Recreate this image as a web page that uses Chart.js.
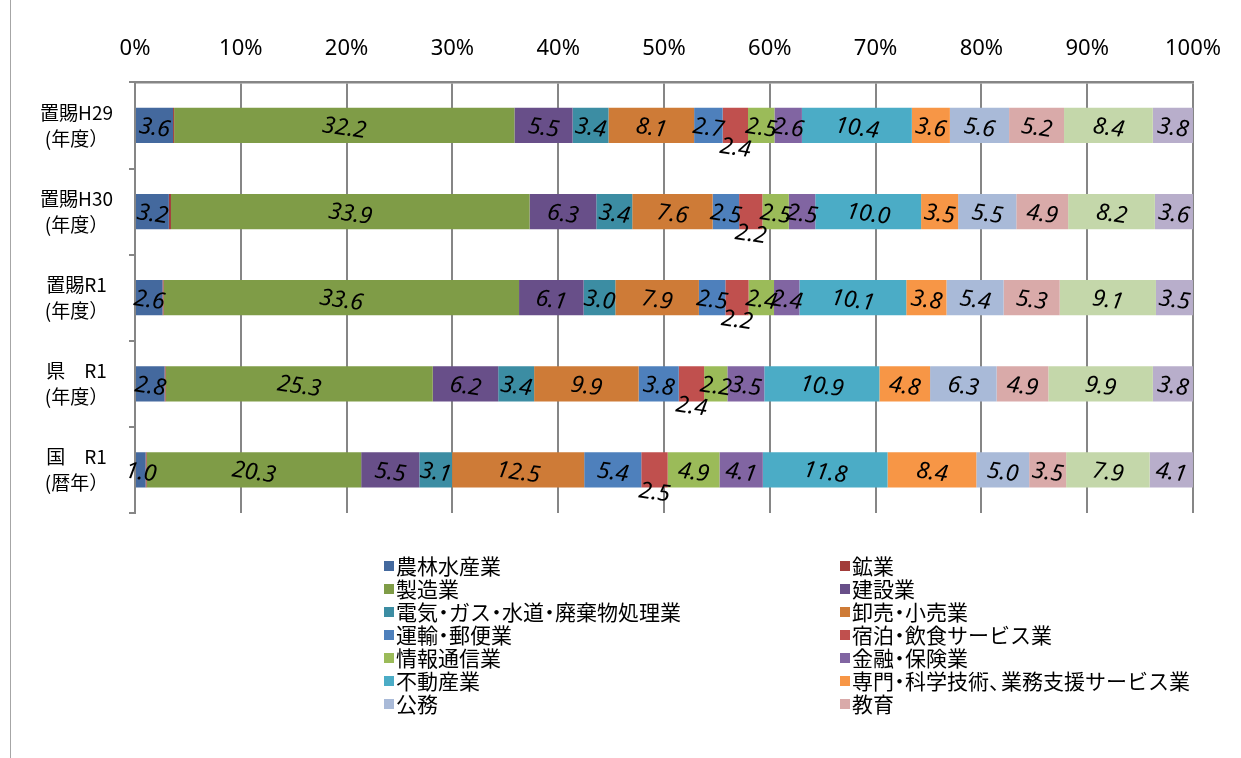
<!DOCTYPE html>
<html lang="ja">
<head>
<meta charset="utf-8">
<title>産業別構成比</title>
<script src="https://cdn.jsdelivr.net/npm/chart.js@4.4.1/dist/chart.umd.min.js"></script>
<style>
  body { margin: 0; background: #fff; }
  #wrap { position: relative; width: 1241px; height: 758px; overflow: hidden; }
  #frame { position: absolute; left: 10px; top: 0; width: 0; height: 758px; border-left: 1.5px solid #a6a6a6; }
  #chart { position: absolute; left: 0; top: 0; }
  #legend {
    position: absolute; left: 384px; top: 554px;
    display: grid; grid-template-columns: 456px auto;
    font-family: "Noto Sans CJK JP", sans-serif; font-size: 21px; line-height: 23px; color: #000;
  }
  #legend .item { display: flex; align-items: center; white-space: nowrap; }
  #legend .box { width: 10px; height: 10px; margin-right: 2px; flex: none; }
  #legend .dot { margin: 0 -5px; }
  #legend .comma { margin-right: -9px; }
</style>
</head>
<body>
<div id="wrap">
  <div id="frame"></div>
  <canvas id="chart" width="1241" height="758"></canvas>
  <div id="legend"></div>
</div>
<script>
// 区分（縦軸）
const categories = [
  ["置賜H29", "(年度）"],
  ["置賜H30", "(年度）"],
  ["置賜R1", "(年度）"],
  ["県　R1", "(年度）"],
  ["国　R1", "(暦年）"]
];

// 産業（系列）。最後の2つは凡例に出ていない
const industries = [
  "農林水産業", "鉱業", "製造業", "建設業",
  "電気・ガス・水道・廃棄物処理業", "卸売・小売業",
  "運輸・郵便業", "宿泊・飲食サービス業",
  "情報通信業", "金融・保険業",
  "不動産業", "専門・科学技術、業務支援サービス業",
  "公務", "教育",
  "保健衛生・社会事業", "その他のサービス"
];
const legendCount = 14;

const industryColors = [
  "#44699e", "#a23c3a", "#7f9c47", "#684f89",
  "#3c8da3", "#ce7b37", "#4e80bc", "#c0504e",
  "#9bbb59", "#8165a2", "#4bacc6", "#f79646",
  "#a9bad8", "#d9aaa9", "#c4d7aa", "#b8aecb"
];

// 構成比（%）行ごと、industries の順
const okitamaH29 = [3.6, 0.1, 32.2, 5.5, 3.4, 8.1, 2.7, 2.4, 2.5, 2.6, 10.4, 3.6, 5.6, 5.2, 8.4, 3.8];
const okitamaH30 = [3.2, 0.2, 33.9, 6.3, 3.4, 7.6, 2.5, 2.2, 2.5, 2.5, 10.0, 3.5, 5.5, 4.9, 8.2, 3.6];
const okitamaR1  = [2.6, 0.1, 33.6, 6.1, 3.0, 7.9, 2.5, 2.2, 2.4, 2.4, 10.1, 3.8, 5.4, 5.3, 9.1, 3.5];
const kenR1      = [2.8, 0.1, 25.3, 6.2, 3.4, 9.9, 3.8, 2.4, 2.2, 3.5, 10.9, 4.8, 6.3, 4.9, 9.9, 3.8];
const kuniR1     = [1.0, 0.1, 20.3, 5.5, 3.1, 12.5, 5.4, 2.5, 4.9, 4.1, 11.8, 8.4, 5.0, 3.5, 7.9, 4.1];

const rows = [okitamaH29, okitamaH30, okitamaR1, kenR1, kuniR1];

const xTicks = [0, 10, 20, 30, 40, 50, 60, 70, 80, 90, 100];

// 100%積み上げにするため各行を合計で割る
const rowTotals = rows.map((r) => r.reduce((a, b) => a + b, 0));

const datasets = industries.map((name, i) => ({
  label: name,
  data: rows.map((r, j) => (r[i] / rowTotals[j]) * 100),
  raw: rows.map((r) => r[i]),
  backgroundColor: industryColors[i],
  borderWidth: 0
}));

const labelFont = 'italic 23px "Noto Sans", sans-serif';

// 棒の中の数値ラベル（少し傾いた斜体）
const valueLabels = {
  id: "valueLabels",
  afterDatasetsDraw(chart) {
    const ctx = chart.ctx;
    ctx.save();
    ctx.font = labelFont;
    ctx.fillStyle = "#000";
    ctx.textAlign = "center";
    ctx.textBaseline = "middle";
    chart.data.datasets.forEach((ds, i) => {
      if (i === 1) return; // 鉱業は表示なし
      const meta = chart.getDatasetMeta(i);
      meta.data.forEach((bar, j) => {
        const cx = (bar.x + bar.base) / 2;
        let cy = bar.y + 3;
        if (i === 7) cy += 20; // 宿泊・飲食は棒の下
        ctx.save();
        ctx.translate(cx, cy);
        ctx.rotate((8 * Math.PI) / 180);
        ctx.fillText(ds.raw[j].toFixed(1), 0, 0);
        ctx.restore();
      });
    });
    ctx.restore();
  }
};

const chart = new Chart(document.getElementById("chart"), {
  type: "bar",
  data: { labels: categories, datasets: datasets },
  options: {
    indexAxis: "y",
    responsive: false,
    animation: false,
    layout: { padding: { top: 16, right: 47, bottom: 245, left: 0 } },
    plugins: {
      legend: { display: false },
      tooltip: { enabled: false }
    },
    datasets: {
      bar: { categoryPercentage: 1, barPercentage: 0.41 }
    },
    scales: {
      x: {
        position: "top",
        stacked: true,
        min: 0,
        max: 100,
        afterBuildTicks: (scale) => {
          scale.ticks = xTicks.map((v) => ({ value: v }));
        },
        ticks: {
          callback: (v) => v + "%",
          color: "#000",
          padding: 20,
          font: { family: "'Noto Sans', sans-serif", size: 22 }
        },
        grid: { color: "#868686", lineWidth: 2, drawTicks: false },
        border: { color: "#868686", width: 2.5 }
      },
      y: {
        stacked: true,
        afterFit: (scale) => {
          scale.width = 135;
        },
        ticks: {
          color: "#000",
          crossAlign: "center",
          padding: 16,
          font: { family: "'Noto Sans CJK JP', sans-serif", size: 19, lineHeight: 1.35 }
        },
        grid: {
          offset: true,
          drawOnChartArea: false,
          drawTicks: true,
          tickLength: 6,
          color: "#868686",
          lineWidth: 2
        },
        border: { color: "#868686", width: 2 }
      }
    }
  },
  plugins: [valueLabels]
});

// 2列の凡例（Excelの並び）。「・」「、」は詰めて表示
const legendEl = document.getElementById("legend");
chart.data.datasets.slice(0, legendCount).forEach((ds) => {
  const item = document.createElement("div");
  item.className = "item";
  const box = document.createElement("span");
  box.className = "box";
  box.style.background = ds.backgroundColor;
  const text = document.createElement("span");
  for (const ch of ds.label) {
    if (ch === "・" || ch === "、") {
      const p = document.createElement("span");
      p.className = ch === "・" ? "dot" : "comma";
      p.textContent = ch;
      text.appendChild(p);
    } else {
      text.appendChild(document.createTextNode(ch));
    }
  }
  item.appendChild(box);
  item.appendChild(text);
  legendEl.appendChild(item);
});
</script>
</body>
</html>
